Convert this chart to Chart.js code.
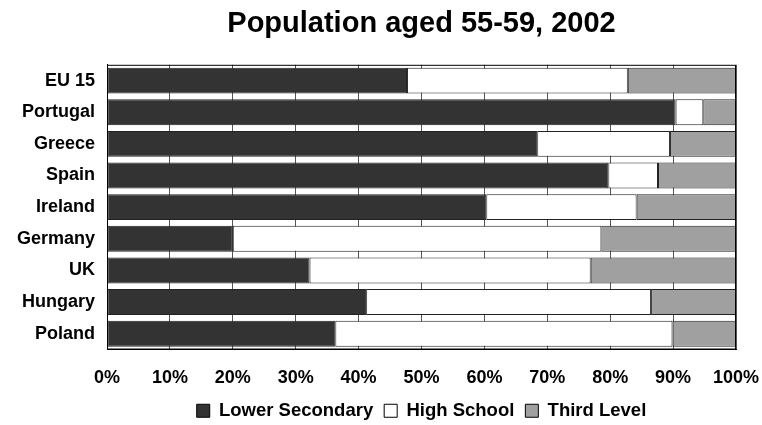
<!DOCTYPE html>
<html>
<head>
<meta charset="utf-8">
<title>Population aged 55-59, 2002</title>
<script src="https://cdn.jsdelivr.net/npm/chart.js"></script>
<style>
  html, body { margin: 0; padding: 0; background: #ffffff; }
  #chart { display: block; }
</style>
</head>
<body>
<canvas id="chart" width="762" height="425"></canvas>
<script>
  // Share of each education level (%)
  const countries = ['EU 15', 'Portugal', 'Greece', 'Spain', 'Ireland', 'Germany', 'UK', 'Hungary', 'Poland'];
  const lowerSecondary = [47.7, 90.4, 68.4, 79.7, 60.3, 20.0, 32.2, 41.2, 36.3];
  const highSchool = [35.1, 4.4, 21.1, 7.9, 23.9, 58.6, 44.7, 45.3, 53.6];
  const thirdLevel = [17.2, 5.2, 10.5, 12.4, 15.8, 21.4, 23.1, 13.5, 10.1];
  const xTicks = [0, 10, 20, 30, 40, 50, 60, 70, 80, 90, 100];

  const FONT = "'Liberation Sans', Arial, sans-serif";

  // draw the full box around the plot area (top and right included)
  const frame = {
    id: 'frame',
    afterDatasetsDraw(chart) {
      const { ctx, chartArea } = chart;
      ctx.save();
      ctx.strokeStyle = '#000000';
      ctx.lineWidth = 1;
      ctx.strokeRect(chartArea.left + 0.5, chartArea.top + 0.5,
        chartArea.right - chartArea.left - 1, chartArea.bottom - chartArea.top - 1);
      ctx.restore();
    },
  };

  function dataset(label, data, color) {
    return {
      label,
      data,
      backgroundColor: color,
      borderColor: '#222222',
      borderWidth: 1,
      borderSkipped: false,
      barPercentage: 0.82,
      categoryPercentage: 1,
    };
  }

  new Chart(document.getElementById('chart').getContext('2d'), {
    type: 'bar',
    data: {
      labels: countries,
      datasets: [
        dataset('Lower Secondary', lowerSecondary, '#333333'),
        dataset('High School', highSchool, '#ffffff'),
        dataset('Third Level', thirdLevel, '#a0a0a0'),
      ],
    },
    options: {
      indexAxis: 'y',
      responsive: false,
      animation: false,
      devicePixelRatio: 1,
      layout: { padding: { left: 0, right: 26, top: 0, bottom: -5 } },
      plugins: {
        title: {
          display: true,
          text: 'Population aged 55-59, 2002',
          fullSize: false,
          color: '#000000',
          font: { family: FONT, size: 29, weight: 'bold' },
          padding: { top: 7, bottom: 23 },
        },
        legend: {
          position: 'bottom',
          fullSize: false,
          labels: {
            color: '#000000',
            font: { family: FONT, size: 18.5, weight: 'bold' },
            boxWidth: 13,
            boxHeight: 13,
            padding: 11,
            generateLabels(chart) {
              return chart.data.datasets.map((ds, i) => ({
                text: ds.label,
                fillStyle: ds.backgroundColor,
                strokeStyle: '#000000',
                lineWidth: 1,
                datasetIndex: i,
                hidden: false,
              }));
            },
          },
        },
        tooltip: { enabled: false },
      },
      scales: {
        x: {
          stacked: true,
          min: 0,
          max: 100,
          afterBuildTicks(axis) {
            axis.ticks = xTicks.map((value) => ({ value }));
          },
          afterFit(axis) {
            axis.height = 41;
            // the layout padding already leaves room for the "100%" label
            axis.paddingLeft = 0;
            axis.paddingRight = 0;
          },
          grid: { color: '#555555', lineWidth: 1, drawTicks: false },
          border: { display: true, color: '#000000', width: 1 },
          ticks: {
            color: '#000000',
            padding: 18,
            maxRotation: 0,
            font: { family: FONT, size: 18, weight: 'bold' },
            callback: (value) => value + '%',
          },
        },
        y: {
          stacked: true,
          afterFit(axis) {
            axis.width = 107;
          },
          grid: { display: false, drawTicks: false },
          border: { display: true, color: '#000000', width: 1 },
          ticks: {
            color: '#000000',
            padding: 12,
            font: { family: FONT, size: 18, weight: 'bold' },
          },
        },
      },
    },
    plugins: [frame],
  });
</script>
</body>
</html>
